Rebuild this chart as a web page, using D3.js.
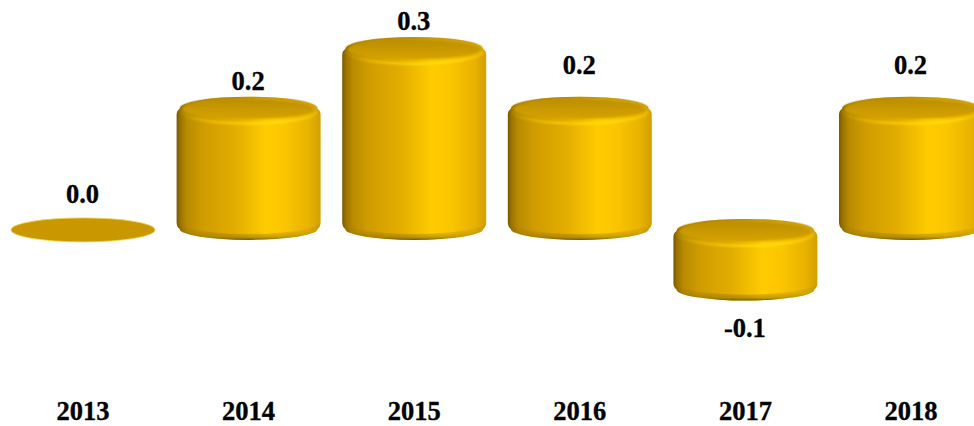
<!DOCTYPE html>
<html><head><meta charset="utf-8">
<script src="https://cdn.jsdelivr.net/npm/d3@7"></script>
<style>html,body{margin:0;padding:0;background:#fff;overflow:hidden}svg{display:block}</style>
</head><body><svg id="c" width="974" height="426"></svg>
<script>
const years = ["2013","2014","2015","2016","2017","2018"];
const values = [0.0, 0.2, 0.3, 0.2, -0.1, 0.2];
const labels = ["0.0","0.2","0.3","0.2","-0.1","0.2"];
const labelBaselines = [203, 90, 30, 74, 337, 74];

const svg = d3.select("#c");
const x = d3.scalePoint().domain(years).range([83, 911]);
const y = d3.scaleLinear().domain([-0.1, 0.3]).range([288.5, 50]);
const rx = 72, ryB = 12, ryT = 14;
const serif = "'Liberation Serif','Times New Roman',serif";

const defs = svg.append("defs");
function grad(id, stops, vertical){
  const g = defs.append("linearGradient").attr("id", id)
    .attr("x1",0).attr("y1",0).attr("x2",vertical?0:1).attr("y2",vertical?1:0);
  stops.forEach(s => g.append("stop").attr("offset", s[0]).attr("stop-color", s[1]).attr("stop-opacity", s[2]===undefined?1:s[2]));
}
grad("side", [[0,"#7a5900"],[0.025,"#9a7200"],[0.07,"#b88a00"],[0.18,"#cf9c00"],[0.4,"#e2ad00"],[0.62,"#ffcb00"],[0.75,"#fbc600"],[0.92,"#e8b200"],[1,"#d2a000"]]);
grad("capTop", [[0,"#bb8e00"],[0.6,"#cc9b00"],[1,"#d6a300"]], true);
grad("capBack", [[0,"#8a6a00",0.55],[0.3,"#8a6a00",0.2],[0.55,"#8a6a00",0]], true);
grad("glint", [[0,"#ffd60a",0.1],[0.3,"#ffd60a",0.7],[0.7,"#ffe010",1],[1,"#ffd60a",0.5]]);
grad("bottomShade", [[0,"#6b5200",0.05],[0.55,"#6b5200",0.12],[0.85,"#6b5200",0.38],[1,"#5f4a00",0.85]], true);
function blur(id, sd){
  defs.append("filter").attr("id",id).attr("x","-10%").attr("y","-30%").attr("width","120%").attr("height","160%")
    .append("feGaussianBlur").attr("stdDeviation",sd);
}
blur("soft",0.6); blur("mid",1.3);

const zero = y(0);
const data = years.map((yr,i)=>({yr, v:values[i], label:labels[i], base:labelBaselines[i]}));

const bars = svg.selectAll("g.bar").data(data).join("g").attr("class","bar")
  .attr("transform", d=>`translate(${x(d.yr)},0)`);

bars.filter(d=>d.v===0).append("ellipse")
  .attr("cx",0).attr("cy",zero+1).attr("rx",rx).attr("ry",ryB)
  .attr("fill","#c99700").attr("stroke","#f1d24e").attr("stroke-width",0.8).attr("filter","url(#soft)");

const solid = bars.filter(d=>d.v!==0);
const topY = d => d.v>0 ? y(d.v)+1 : zero+4;
const botY = d => d.v>0 ? zero-1 : y(d.v);
const lower = b => `L${rx},${b-6}Q${rx},${b-1} ${rx-3},${b+1}A${rx-3},${ryB-1} 0 0 1 ${-rx+3},${b+1}Q${-rx},${b-1} ${-rx},${b-6}`;
const bodyPath = d => {
  const t=topY(d), b=botY(d);
  return `M${-rx},${t+4}Q${-rx},${t} ${-rx+3},${t-2}A${rx-3},${ryT-2} 0 0 1 ${rx-3},${t-2}Q${rx},${t} ${rx},${t+4}`+lower(b)+"Z";
};

solid.append("path").attr("fill","url(#side)").attr("filter","url(#soft)").attr("d", bodyPath);

// shaded lower edge
solid.append("path").attr("fill","url(#bottomShade)").attr("filter","url(#soft)")
  .attr("d", d=>{const b=botY(d);
    return `M${-rx},${b-6}A${rx},${ryB} 0 0 0 ${rx},${b-6}`+lower(b)+"Z";});

// recessed top with dim back rim and bright front edge
solid.append("ellipse").attr("cx",0).attr("cy",d=>topY(d)-3).attr("rx",rx-1.5).attr("ry",ryT-3)
  .attr("fill","url(#capBack)").attr("filter","url(#soft)");
solid.append("ellipse").attr("cx",0).attr("cy",d=>topY(d)-1.5).attr("rx",rx-6).attr("ry",ryT-4)
  .attr("fill","url(#capTop)").attr("filter","url(#mid)");
solid.append("path").attr("fill","none").attr("stroke","url(#glint)").attr("stroke-width",2.4).attr("filter","url(#mid)")
  .attr("d", d=>{const t=topY(d);return `M${-rx+4},${t}A${rx-4},${ryT-1} 0 0 0 ${rx-4},${t}`;});

const text = (sel)=>sel.attr("font-family",serif).attr("font-weight","bold").attr("font-size",26.5)
  .attr("fill","#000").attr("stroke","#000").attr("stroke-width",0.35).attr("text-anchor","middle");

svg.selectAll("text.val").data(data).join("text").attr("class","val").call(text)
  .attr("x",d=>x(d.yr)-0.5).attr("y",d=>d.base).text(d=>d.label);

svg.selectAll("text.cat").data(data).join("text").attr("class","cat").call(text)
  .attr("x",d=>x(d.yr)).attr("y",420).text(d=>d.yr);
</script></body></html>
